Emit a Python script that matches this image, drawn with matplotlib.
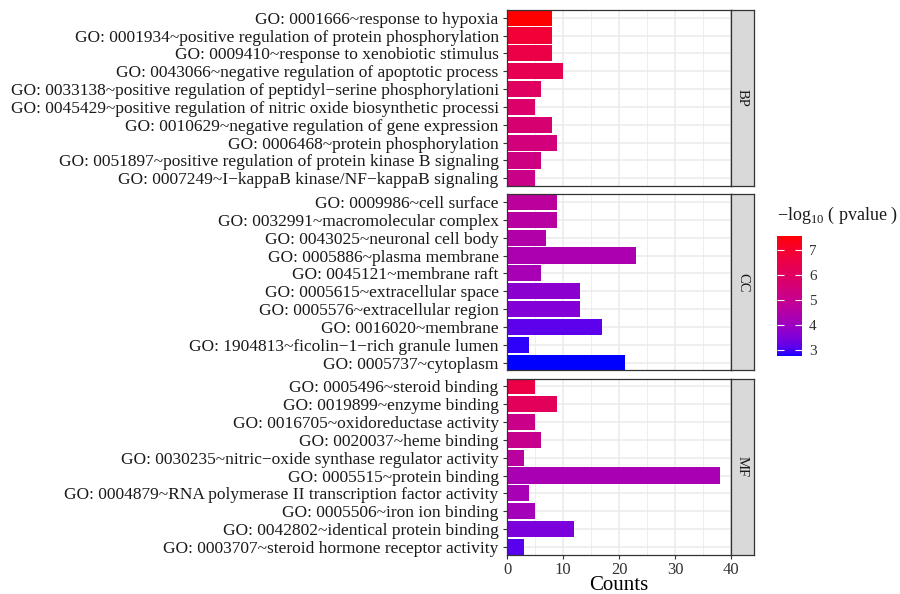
import numpy as np
import matplotlib
matplotlib.use("Agg")
import matplotlib.pyplot as plt
from matplotlib.cm import ScalarMappable
from matplotlib.colors import ListedColormap, Normalize
from matplotlib.ticker import MultipleLocator

# ---- data ----
bp_terms = [
    "GO: 0001666~response to hypoxia",
    "GO: 0001934~positive regulation of protein phosphorylation",
    "GO: 0009410~response to xenobiotic stimulus",
    "GO: 0043066~negative regulation of apoptotic process",
    "GO: 0033138~positive regulation of peptidyl−serine phosphorylationi",
    "GO: 0045429~positive regulation of nitric oxide biosynthetic processi",
    "GO: 0010629~negative regulation of gene expression",
    "GO: 0006468~protein phosphorylation",
    "GO: 0051897~positive regulation of protein kinase B signaling",
    "GO: 0007249~I−kappaB kinase/NF−kappaB signaling",
]
bp_counts = [8, 8, 8, 10, 6, 5, 8, 9, 6, 5]
bp_logp = [7.56, 6.85, 6.5, 6.3, 6.0, 5.8, 5.65, 5.45, 5.3, 5.15]

cc_terms = [
    "GO: 0009986~cell surface",
    "GO: 0032991~macromolecular complex",
    "GO: 0043025~neuronal cell body",
    "GO: 0005886~plasma membrane",
    "GO: 0045121~membrane raft",
    "GO: 0005615~extracellular space",
    "GO: 0005576~extracellular region",
    "GO: 0016020~membrane",
    "GO: 1904813~ficolin−1−rich granule lumen",
    "GO: 0005737~cytoplasm",
]
cc_counts = [9, 9, 7, 23, 6, 13, 13, 17, 4, 21]
cc_logp = [4.75, 4.65, 4.48, 4.33, 4.24, 3.7, 3.56, 3.13, 2.84, 2.74]

mf_terms = [
    "GO: 0005496~steroid binding",
    "GO: 0019899~enzyme binding",
    "GO: 0016705~oxidoreductase activity",
    "GO: 0020037~heme binding",
    "GO: 0030235~nitric−oxide synthase regulator activity",
    "GO: 0005515~protein binding",
    "GO: 0004879~RNA polymerase II transcription factor activity",
    "GO: 0005506~iron ion binding",
    "GO: 0042802~identical protein binding",
    "GO: 0003707~steroid hormone receptor activity",
]
mf_counts = [5, 9, 5, 6, 3, 38, 4, 5, 12, 3]
mf_logp = [6.5, 6.1, 5.15, 5.05, 4.67, 4.28, 4.24, 4.14, 3.46, 3.08]

facets = ["BP", "CC", "MF"]
x_ticks = [0, 10, 20, 30, 40]
cbar_ticks = [3, 4, 5, 6, 7]

# ---- blue -> red gradient interpolated in Lab (like ggplot's scale_fill_gradient) ----
M = np.array([[0.4124, 0.3576, 0.1805],
              [0.2126, 0.7152, 0.0722],
              [0.0193, 0.1192, 0.9505]])
WHITE = np.array([0.95047, 1.0, 1.08883])


def to_lab(rgb):
    rgb = np.asarray(rgb, float)
    lin = np.where(rgb > 0.04045, ((rgb + 0.055) / 1.055) ** 2.4, rgb / 12.92)
    xyz = M @ lin / WHITE
    f = np.where(xyz > 0.008856, np.cbrt(xyz), 7.787 * xyz + 16 / 116)
    return np.array([116 * f[1] - 16, 500 * (f[0] - f[1]), 200 * (f[1] - f[2])])


def from_lab(lab):
    fy = (lab[:, 0] + 16) / 116
    fx = fy + lab[:, 1] / 500
    fz = fy - lab[:, 2] / 200
    f = np.stack([fx, fy, fz], axis=1)
    xyz = np.where(f > 0.2069, f ** 3, (f - 16 / 116) / 7.787) * WHITE
    lin = np.clip(xyz @ np.linalg.inv(M).T, 0, 1)
    rgb = np.where(lin > 0.0031308, 1.055 * lin ** (1 / 2.4) - 0.055, 12.92 * lin)
    return np.clip(rgb, 0, 1)


t = np.linspace(0, 1, 256)[:, None]
lab_lo, lab_hi = to_lab([0, 0, 1]), to_lab([1, 0, 0])
cmap = ListedColormap(from_lab(lab_lo + t * (lab_hi - lab_lo)))
all_logp = bp_logp + cc_logp + mf_logp
norm = Normalize(min(all_logp), max(all_logp))

plt.rcParams["font.family"] = ["Liberation Serif", "DejaVu Serif"]
plt.rcParams["mathtext.fontset"] = "custom"
plt.rcParams["mathtext.rm"] = "Liberation Serif"

W, H = 900, 594
fig = plt.figure(figsize=(W / 100, H / 100), dpi=100)


def rect(x0, y0, x1, y1):
    # pixel box (top-left origin) -> figure fraction
    return [x0 / W, 1 - y1 / H, (x1 - x0) / W, (y1 - y0) / H]


PX0, PX1, SX1 = 507, 731, 754
panel_h, gap, top = 176, 8.3, 10
data = [(bp_terms, bp_counts, bp_logp),
        (cc_terms, cc_counts, cc_logp),
        (mf_terms, mf_counts, mf_logp)]

for i, (terms, counts, logp) in enumerate(data):
    y0 = top + i * (panel_h + gap)
    ax = fig.add_axes(rect(PX0, y0, PX1, y0 + panel_h))
    y = np.arange(len(terms))
    ax.barh(y, counts, height=0.9, color=cmap(norm(logp)))
    ax.set_xlim(0, 40)
    ax.set_ylim(len(terms) - 1 + 0.43, -0.43)
    ax.set_yticks(y)
    ax.set_yticklabels(terms, fontsize=12.5, color="#1a1a1a")
    ax.set_xticks(x_ticks)
    ax.xaxis.set_minor_locator(MultipleLocator(5))
    ax.set_axisbelow(True)
    ax.grid(which="major", color="#EBEBEB", lw=1.1)
    ax.grid(which="minor", axis="x", color="#EBEBEB", lw=0.6)
    ax.tick_params(which="minor", length=0)
    ax.tick_params(axis="y", length=3, pad=3, color="#333333", width=0.8)
    for s in ax.spines.values():
        s.set_color("#333333")
        s.set_linewidth(0.9)
    if i < 2:
        ax.tick_params(axis="x", length=0, labelbottom=False)
    else:
        ax.tick_params(axis="x", length=3, pad=2, color="#333333", width=0.8,
                       labelsize=12, labelcolor="#333333")
        ax.set_xlabel("Counts", fontsize=15, labelpad=-1, color="black")

    # facet strip on the right
    sx = fig.add_axes(rect(PX1, y0, SX1, y0 + panel_h))
    sx.set_facecolor("#D9D9D9")
    sx.set_xticks([]); sx.set_yticks([])
    for s in sx.spines.values():
        s.set_color("#333333")
        s.set_linewidth(0.9)
    sx.text(0.5, 0.5, facets[i], rotation=-90, ha="center", va="center",
            fontsize=10.5, color="#1a1a1a", transform=sx.transAxes)

# colour bar legend
cax = fig.add_axes(rect(777, 236, 802, 356))
cb = fig.colorbar(ScalarMappable(norm=norm, cmap=cmap), cax=cax)
cb.outline.set_visible(False)
cb.set_ticks(cbar_ticks)
cb.minorticks_off()
cax.tick_params(direction="in", length=5, width=0.8, color="white",
                left=True, right=True, labelsize=11, labelcolor="#333333", pad=5)
fig.text(777 / W, 1 - 215 / H, r"$-\mathrm{log}_{10}$ ( pvalue )",
         ha="left", va="center", fontsize=13, color="#1a1a1a")

fig.savefig("out.png", dpi=100)
